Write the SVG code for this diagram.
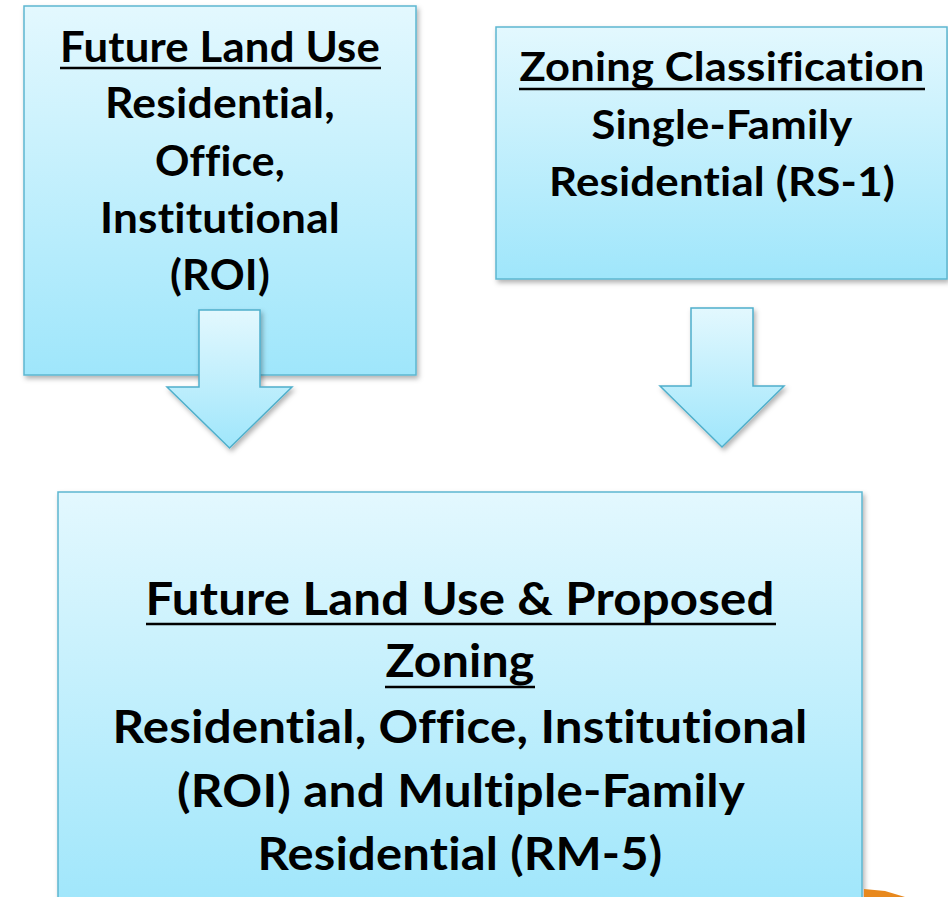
<svg xmlns="http://www.w3.org/2000/svg" width="948" height="897" viewBox="0 0 948 897">
<defs>
<linearGradient id="g" x1="0" y1="0" x2="0" y2="1">
<stop offset="0" stop-color="#E3F8FE"/>
<stop offset="1" stop-color="#9FE6FB"/>
</linearGradient>
<filter id="sh" x="-5%" y="-5%" width="112%" height="112%">
<feDropShadow dx="2" dy="3" stdDeviation="2.5" flood-color="#000" flood-opacity="0.3"/>
</filter>
<style>
.box{fill:url(#g);stroke:#5DB7D1;stroke-width:1.5;filter:url(#sh)}
.arr{fill:url(#g);stroke:#4FAFCB;stroke-width:1.5;filter:url(#sh)}
.t{font-family:Lato,"Liberation Sans",sans-serif;font-weight:bold;fill:#000;text-anchor:middle;font-variant-ligatures:none;font-feature-settings:"liga" 0,"clig" 0,"dlig" 0;letter-spacing:0.2px}
.u{stroke:#000;stroke-width:2.5}
</style>
</defs>
<rect width="948" height="897" fill="#fff"/>
<g id="future-land-use">
<rect class="box" x="24" y="6" width="392" height="369"/>
<text class="t" x="220" y="62" font-size="42" textLength="320" lengthAdjust="spacingAndGlyphs">Future Land Use</text>
<line class="u" x1="60" y1="68" x2="381" y2="68"/>
<text class="t" x="220" y="118" font-size="42" textLength="230" lengthAdjust="spacingAndGlyphs">Residential,</text>
<text class="t" x="220" y="176" font-size="42" textLength="130" lengthAdjust="spacingAndGlyphs">Office,</text>
<text class="t" x="220" y="233" font-size="42" textLength="240" lengthAdjust="spacingAndGlyphs">Institutional</text>
<text class="t" x="220" y="290" font-size="42" textLength="100" lengthAdjust="spacingAndGlyphs">(ROI)</text>
</g>
<g id="zoning-classification">
<rect class="box" x="496" y="27" width="451" height="252"/>
<text class="t" x="722" y="81" font-size="41" textLength="405" lengthAdjust="spacingAndGlyphs">Zoning Classification</text>
<line class="u" x1="519" y1="89" x2="925" y2="89"/>
<text class="t" x="722" y="139" font-size="41" textLength="261" lengthAdjust="spacingAndGlyphs">Single-Family</text>
<text class="t" x="722" y="196" font-size="41" textLength="346" lengthAdjust="spacingAndGlyphs">Residential (RS-1)</text>
</g>
<g id="connectors">
<polygon class="arr" points="199,310 260,310 260,387 292,387 229.5,448 167,387 199,387"/>
<polygon class="arr" points="691,308 753,308 753,386 784,386 722,447 660,386 691,386"/>
</g>
<g id="proposed">
<rect class="box" x="58" y="492" width="804" height="420"/>
<text class="t" x="460" y="615" font-size="46" textLength="629" lengthAdjust="spacingAndGlyphs">Future Land Use &amp; Proposed</text>
<line class="u" x1="146" y1="624" x2="776" y2="624"/>
<text class="t" x="460" y="677" font-size="46" textLength="149" lengthAdjust="spacingAndGlyphs">Zoning</text>
<line class="u" x1="385" y1="687" x2="535" y2="687"/>
<text class="t" x="460" y="743" font-size="46" textLength="695" lengthAdjust="spacingAndGlyphs">Residential, Office, Institutional</text>
<text class="t" x="461" y="807" font-size="46" textLength="568" lengthAdjust="spacingAndGlyphs">(ROI) and Multiple-Family</text>
<text class="t" x="460" y="870" font-size="46" textLength="405" lengthAdjust="spacingAndGlyphs">Residential (RM-5)</text>
</g>
<polygon points="864,889 885,891 905,897 864,897" fill="#E8891E"/>
</svg>
